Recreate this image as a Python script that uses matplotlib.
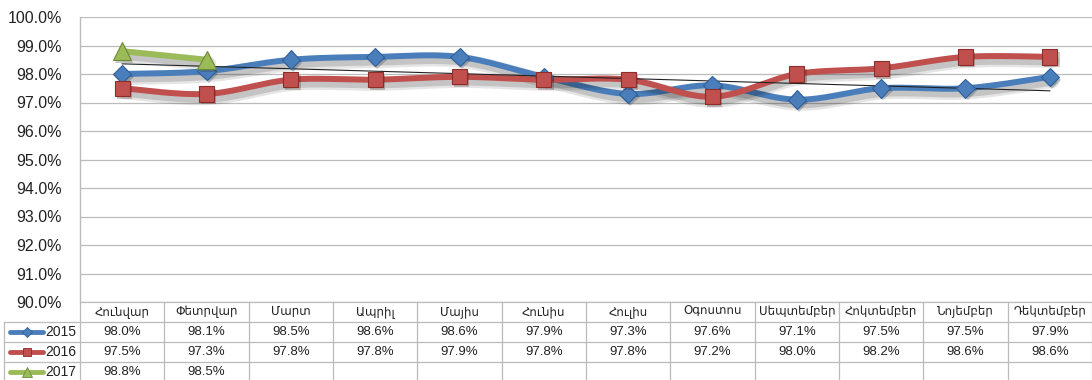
import numpy as np
import matplotlib
matplotlib.use("Agg")
import matplotlib.pyplot as plt
import matplotlib.patheffects as pe
from matplotlib.ticker import FuncFormatter

plt.rcParams['font.family'] = ['Liberation Sans', 'DejaVu Sans']

months = ['Հունվար', 'Փետրվար', 'Մարտ', 'Ապրիլ', 'Մայիս', 'Հունիս',
          'Հուլիս', 'Օգոստոս', 'Սեպտեմբեր', 'Հոկտեմբեր', 'Նոյեմբեր', 'Դեկտեմբեր']
y2015 = [98.0, 98.1, 98.5, 98.6, 98.6, 97.9, 97.3, 97.6, 97.1, 97.5, 97.5, 97.9]
y2016 = [97.5, 97.3, 97.8, 97.8, 97.9, 97.8, 97.8, 97.2, 98.0, 98.2, 98.6, 98.6]
y2017 = [98.8, 98.5]

series = [
    ('2015', y2015, '#4a7ebb', '#2f5f99', 'D', 9.5),
    ('2016', y2016, '#c0504d', '#8c2d2a', 's', 11),
    ('2017', y2017, '#9bbb59', '#6f8a36', '^', 13),
]


def smooth(ys, n=30):
    # bezier smoothing with 1/6 tangent, like office "smoothed line"
    p = np.column_stack([np.arange(len(ys)), ys]).astype(float)
    if len(p) < 3:
        return p[:, 0], p[:, 1]
    out = []
    for i in range(len(p) - 1):
        a = p[max(i - 1, 0)]
        b = p[i]
        c = p[i + 1]
        d = p[min(i + 2, len(p) - 1)]
        c1 = b + (c - a) / 6
        c2 = c - (d - b) / 6
        t = np.linspace(0, 1, n)[:, None]
        seg = (1 - t) ** 3 * b + 3 * (1 - t) ** 2 * t * c1 + 3 * (1 - t) * t ** 2 * c2 + t ** 3 * c
        out.append(seg if i == 0 else seg[1:])
    out = np.vstack(out)
    return out[:, 0], out[:, 1]


W, H = 1092, 380
fig = plt.figure(figsize=(W / 100, H / 100), dpi=100)

left, right, top, bottom = 80, 1092, 17, 302
ax = fig.add_axes([left / W, (H - bottom) / H, (right - left) / W, (bottom - top) / H])
ax.set_xlim(-0.5, 11.5)
ax.set_ylim(90, 100)
ax.set_yticks(np.arange(90, 100.1, 1))
ax.yaxis.set_major_formatter(FuncFormatter(lambda v, _: f'{v:.1f}%'))
ax.set_xticks([])
ax.tick_params(axis='y', length=0, labelsize=11.5, pad=13, labelcolor='#222222')
ax.grid(axis='y', color='#bbbbbb', lw=0.9)
for s in ['top', 'right', 'bottom']:
    ax.spines[s].set_visible(False)
ax.spines['left'].set_color('#bbbbbb')
ax.set_axisbelow(True)

shadow = [pe.SimpleLineShadow(offset=(2, -3), shadow_color='k', alpha=0.10, linewidth=10),
          pe.SimpleLineShadow(offset=(2, -3), shadow_color='k', alpha=0.14, linewidth=6.5),
          pe.Normal()]

for name, ys, col, edge, mk, ms in series:
    sx, sy = smooth(ys)
    ax.plot(sx, sy, color=col, lw=4.3, solid_capstyle='round', path_effects=shadow, zorder=3)

# linear trend of 2015
xi = np.arange(len(y2015))
k, b0 = np.polyfit(xi, y2015, 1)
ax.plot(xi, k * xi + b0, color='#222222', lw=0.8, zorder=4)

for name, ys, col, edge, mk, ms in series:
    ax.plot(np.arange(len(ys)), ys, ls='none', marker=mk, ms=ms, mfc=col, mec=edge, mew=0.8,
            zorder=5, path_effects=[pe.SimplePatchShadow(offset=(1.5, -2), alpha=0.25), pe.Normal()])

# data table under the plot
tab = fig.add_axes([0, 0, 1, 1])
tab.set_xlim(0, W)
tab.set_ylim(H, 0)
tab.axis('off')
tab.patch.set_alpha(0)

gc = '#bbbbbb'
colw = (right - left) / 12
rows_y = [302, 322, 342, 362, 382]
tab.plot([left, left], [top, H], color=gc, lw=0.9)
for i in range(1, 13):
    x = left + i * colw
    tab.plot([x, x], [rows_y[0], H], color=gc, lw=0.9)
tab.plot([left, right], [rows_y[0], rows_y[0]], color=gc, lw=0.9)
for yy in rows_y[1:4]:
    tab.plot([4, right], [yy, yy], color=gc, lw=0.9)
tab.plot([4, 4], [rows_y[1], H], color=gc, lw=0.9)

for i, m in enumerate(months):
    tab.text(left + (i + 0.5) * colw, (rows_y[0] + rows_y[1]) / 2, m,
             ha='center', va='center', fontsize=8.5, color='#222222')

for r, (name, ys, col, edge, mk, ms) in enumerate(series):
    yc = (rows_y[r + 1] + rows_y[r + 2]) / 2
    tab.plot([10, 43], [yc, yc], color=col, lw=3.5, solid_capstyle='round')
    tab.plot([26.5], [yc], marker=mk, ms=ms * 0.55, mfc=col, mec=edge, mew=0.6)
    tab.text(45, yc, name, ha='left', va='center', fontsize=10, color='#222222')
    for i, v in enumerate(ys):
        tab.text(left + (i + 0.5) * colw, yc, f'{v:.1f}%', ha='center', va='center',
                 fontsize=9.5, color='#222222')

fig.savefig('out.png', dpi=100)
